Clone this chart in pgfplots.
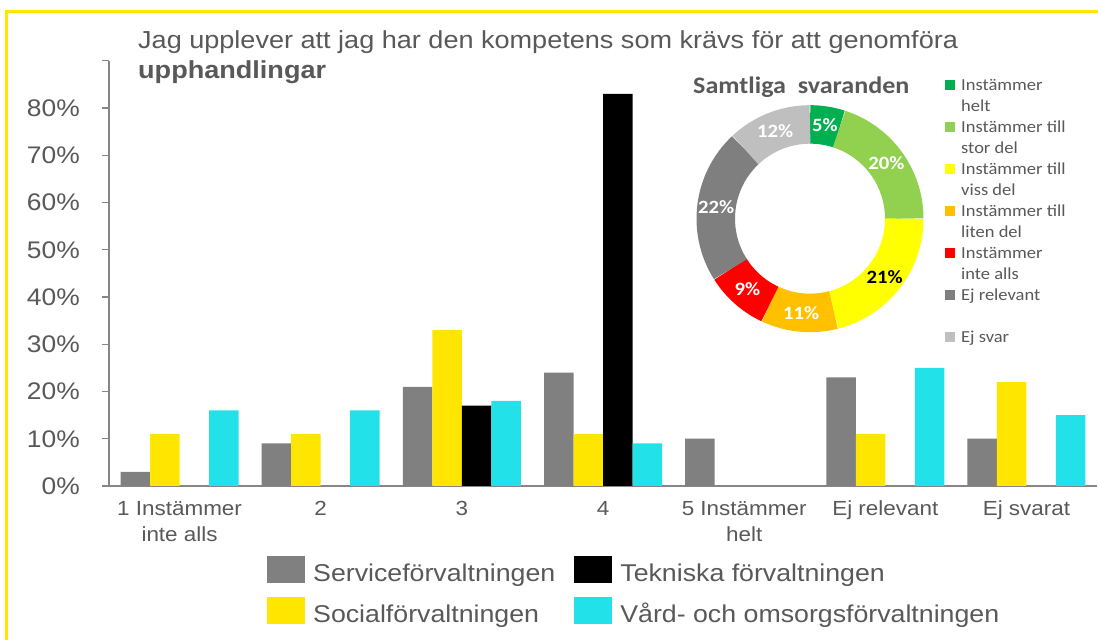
\documentclass[border=0pt]{standalone}
\usepackage{fontspec}
\setmainfont{Liberation Sans}[FakeStretch=1.1]
\newfontfamily\calfont{Carlito}[FakeStretch=1.1]
\usepackage{pgfplots}
\pgfplotsset{compat=1.18}
\definecolor{sgray}{HTML}{808080}
\definecolor{syellow}{HTML}{FFE600}
\definecolor{scyan}{HTML}{22E1E9}
\definecolor{txtgray}{HTML}{595959}
\definecolor{axgray}{HTML}{868686}
\definecolor{dgreen}{HTML}{00B050}
\definecolor{lgreen}{HTML}{92D050}
\definecolor{dyellow}{HTML}{FFFF00}
\definecolor{dorange}{HTML}{FFC000}
\definecolor{dred}{HTML}{FF0000}
\definecolor{dgray}{HTML}{7F7F7F}
\definecolor{lgray}{HTML}{BFBFBF}
\definecolor{frameyellow}{HTML}{FFE600}
\pgfplotsset{
  mainsq/.style={legend image code/.code={\fill[##1] (0bp,-7.8bp) rectangle (38bp,19.2bp);}},
  donutsq/.style={legend image code/.code={\fill[##1] (0bp,-3.5bp) rectangle (10bp,6.5bp);}},
}
% donut slice: #1 start (percent), #2 value (percent), #3 colour, #4 label colour
\newcommand\donutslice[4]{%
  \draw[#3, line width=38.5bp] (axis cs:0,0) ++({90-3.6*#1}:94.25bp)
     arc[start angle={90-3.6*#1}, delta angle={-3.6*#2}, radius=94.25bp];
  \node[text=#4, font=\calfont\bfseries\fontsize{18.8bp}{22bp}\selectfont, inner sep=0pt]
     at (axis cs:0,0) [shift={({90-3.6*(#1+#2/2)}:94.5bp)}] {#2\%};
}
\begin{document}
\begin{tikzpicture}[x=1bp,y=1bp]
\useasboundingbox (0,0) rectangle (1098,640);
\fill[white] (0,0) rectangle (1098,640);
\draw[frameyellow, line width=3bp] (6,0) -- (6,628) -- (1098,628);

\node[anchor=base west, inner sep=0pt, text=txtgray, font=\fontsize{24.6bp}{28bp}\selectfont]
  at (138,591.5) {Jag upplever att jag har den kompetens som krävs för att genomföra};
\node[anchor=base west, inner sep=0pt, text=txtgray, font=\bfseries\fontsize{24.6bp}{28bp}\selectfont]
  at (138,561) {upphandlingar};

\begin{axis}[
  at={(109bp,154bp)}, anchor=south west,
  scale only axis, width=988bp, height=425.25bp,
  xmin=-0.5, xmax=6.5, ymin=0, ymax=90,
  ybar=0pt, bar width=29.5bp,
  axis lines=left,
  axis line style={-, draw=axgray, line width=1.3bp},
  xtick={0,...,6},
  xticklabels={{1 Instämmer\\inte alls},2,3,4,{5 Instämmer\\helt},Ej relevant,Ej svarat},
  ytick={0,10,...,90},
  yticklabels={0\%,10\%,20\%,30\%,40\%,50\%,60\%,70\%,80\%,{}},
  tick align=outside, major tick length=7bp,
  xtick style={draw=none},
  ytick style={draw=axgray, line width=1.3bp},
  xticklabel style={font=\fontsize{20.4bp}{26bp}\selectfont, text=txtgray, align=center, inner sep=0pt, yshift=-8bp},
  yticklabel style={font=\fontsize{24bp}{28bp}\selectfont, text=txtgray, inner sep=0pt, xshift=-22bp},
  legend columns=2, transpose legend,
  legend cell align=left,
  legend style={at={(0.1599,-0.1646)}, anchor=north west, draw=none, fill=none, inner sep=0pt,
    font=\fontsize{24.3bp}{28bp}\selectfont, text=txtgray,
    nodes={inner sep=0pt, text height=18bp, text depth=6bp},
    row sep=9.5bp,
    /tikz/every odd column/.append style={column sep=8bp},
    /tikz/every even column/.append style={column sep=19bp}},
]
\addplot[fill=sgray, draw=none, mainsq] coordinates {(0,3) (1,9) (2,21) (3,24) (4,10) (5,23) (6,10)};
\addplot[fill=syellow, draw=none, mainsq] coordinates {(0,11) (1,11) (2,33) (3,11) (5,11) (6,22)};
\addplot[fill=black, draw=none, mainsq] coordinates {(2,17) (3,83)};
\addplot[fill=scyan, draw=none, mainsq] coordinates {(0,16) (1,16) (2,18) (3,9) (5,25) (6,15)};
\legend{Serviceförvaltningen,Socialförvaltningen,Tekniska förvaltningen,Vård- och omsorgsförvaltningen}
\end{axis}

\node[anchor=base west, inner sep=0pt, text=txtgray, font=\calfont\bfseries\fontsize{23.7bp}{28bp}\selectfont]
  at (693,546.7) {Samtliga~ svaranden};

\begin{axis}[
  at={(810bp,421.3bp)}, anchor=center,
  scale only axis, width=228bp, height=228bp,
  xmin=-1, xmax=1, ymin=-1, ymax=1,
  hide axis, clip=false,
  legend cell align=left,
  legend style={at={(1.0921,1.1259)}, anchor=north west, draw=none, fill=none, inner sep=0pt,
    font=\calfont\fontsize{16.8bp}{21bp}\selectfont, text=txtgray,
    nodes={inner sep=0pt, text height=14bp, text depth=7bp},
    row sep=0pt,
    /tikz/every odd column/.append style={column sep=6bp}},
]
\donutslice{0}{5}{dgreen}{white}
\donutslice{5}{20}{lgreen}{white}
\donutslice{25}{21}{dyellow}{black}
\donutslice{46}{11}{dorange}{white}
\donutslice{57}{9}{dred}{white}
\donutslice{66}{22}{dgray}{white}
\donutslice{88}{12}{lgray}{white}
\addlegendimage{donutsq, fill=dgreen, draw=none}\addlegendentry{Instämmer}
\addlegendimage{empty legend}\addlegendentry{helt}
\addlegendimage{donutsq, fill=lgreen, draw=none}\addlegendentry{Instämmer till}
\addlegendimage{empty legend}\addlegendentry{stor del}
\addlegendimage{donutsq, fill=dyellow, draw=none}\addlegendentry{Instämmer till}
\addlegendimage{empty legend}\addlegendentry{viss del}
\addlegendimage{donutsq, fill=dorange, draw=none}\addlegendentry{Instämmer till}
\addlegendimage{empty legend}\addlegendentry{liten del}
\addlegendimage{donutsq, fill=dred, draw=none}\addlegendentry{Instämmer}
\addlegendimage{empty legend}\addlegendentry{inte alls}
\addlegendimage{donutsq, fill=dgray, draw=none}\addlegendentry{Ej relevant}
\addlegendimage{empty legend}\addlegendentry{\mbox{}}
\addlegendimage{donutsq, fill=lgray, draw=none}\addlegendentry{Ej svar}
\end{axis}
\end{tikzpicture}
\end{document}
